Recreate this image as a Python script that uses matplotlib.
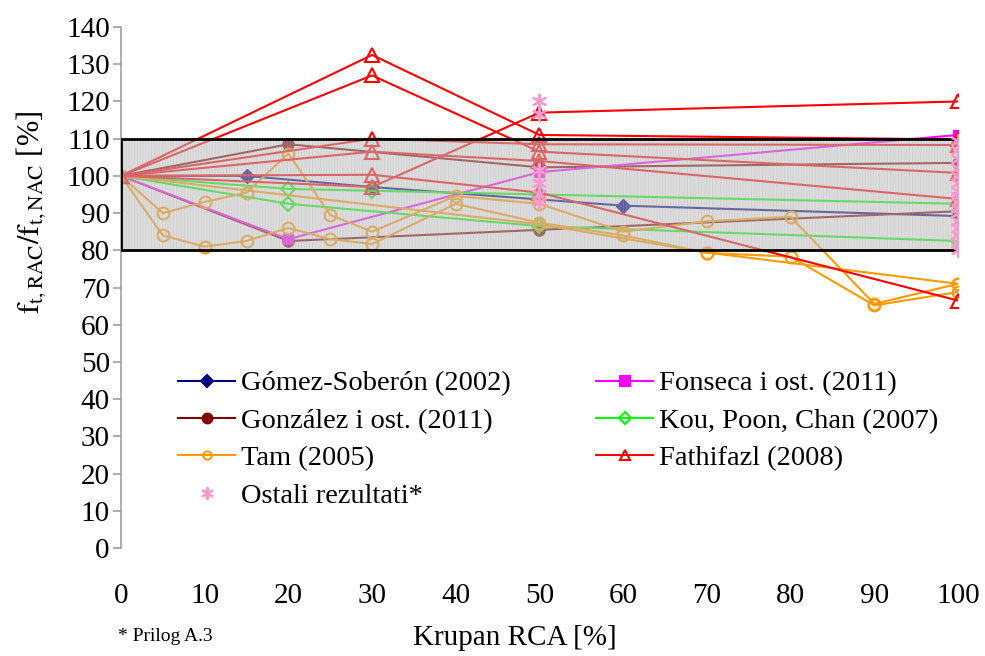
import matplotlib
matplotlib.use('Agg')
import matplotlib.pyplot as plt
from matplotlib.patches import Rectangle
from matplotlib.lines import Line2D

plt.rcParams['font.family'] = ['Liberation Serif', 'DejaVu Serif']
plt.rcParams['mathtext.fontset'] = 'stix'
plt.rcParams['hatch.linewidth'] = 0.6

# ---- data ----
gomez_x = [0, 15, 30, 60, 100]
gomez_y = [100, 100, 97, 92, 89.2]

fonseca_x = [0, 20, 50, 100]
fonseca_y = [100, 83, 101, 111]

gonzalez1_x = [0, 20, 50, 100]
gonzalez1_y = [100, 108.5, 102.3, 103.5]
gonzalez2_x = [0, 20, 50, 100]
gonzalez2_y = [100, 82.5, 85.5, 90.5]

kou1_x = [0, 20, 30, 50, 100]
kou1_y = [100, 96.5, 96, 95, 92.5]
kou2_x = [0, 20, 50, 100]
kou2_y = [100, 92.5, 86.5, 82.5]

tam_x = [0, 5, 10, 15, 20, 25, 30, 40, 50, 60, 70, 80, 90, 100]
tam1_y = [100, 90, 93, 95.5, 106, 89.5, 85, 94.6, 92.5, 85, 87.8, 89, 65.6, 71]
tam2_y = [100, 84, 81, 82.5, 86, 83, 81.7, 92.5, 87.4, 84, 79.3, 78.3, 65.2, 68.8]
tam3_x = [0, 50, 70, 100]
tam3_y = [100, 87, 79.4, 71]

fath_x = [0, 30, 50, 100]
fath1_y = [100, 132.5, 111, 109.8]
fath2_y = [100, 127, 106.5, 100.8]
fath3_y = [100, 97, 117, 120]
fath4_y = [100, 100.3, 95.5, 66.5]
fath5_y = [100, 110, 108.5, 108.3]
fath6_y = [100, 106.5, 104, 93.8]

ostali_x = [50, 50, 50, 50, 50, 50,
            100, 100, 100, 100, 100, 100, 100, 100, 100, 100, 100, 100, 100, 100, 100, 100]
ostali_y = [120, 116.5, 101.5, 98, 95, 93,
            80, 82, 84, 86, 88, 90, 91.5, 93, 94.5, 96, 98, 100, 102, 104.5, 107, 109.5]

box_lo, box_hi = 80, 110

xticks = list(range(0, 101, 10))
yticks = list(range(0, 141, 10))

fig = plt.figure(figsize=(9.85, 6.56), dpi=100)
ax = fig.add_axes([0.1228, 0.1646, 0.8498, 0.7942])

lw = 1.5
ms = 7.5

ax.plot(gomez_x, gomez_y, color='#000080', lw=lw, marker='D', ms=ms,
        mfc='#000080', mec='#000080', label='Gómez-Soberón (2002)')
ax.plot(gonzalez1_x, gonzalez1_y, color='#800000', lw=lw, marker='o', ms=ms + 0.5,
        mfc='#800000', mec='#800000', label='González i ost. (2011)')
ax.plot(gonzalez2_x, gonzalez2_y, color='#800000', lw=lw, marker='o', ms=ms + 0.5,
        mfc='#800000', mec='#800000')
ax.plot(fonseca_x, fonseca_y, color='#ff00ff', lw=lw, marker='s', ms=ms,
        mfc='#ff00ff', mec='#ff00ff', label='Fonseca i ost. (2011)')
for xx, yy in [(kou1_x, kou1_y), (kou2_x, kou2_y)]:
    ax.plot(xx, yy, color='#00ff00', lw=lw, marker='D', ms=ms - 0.5,
            mfc='none', mec='#00ff00', mew=1.5)
for xx, yy in [(tam_x, tam1_y), (tam_x, tam2_y), (tam3_x, tam3_y)]:
    ax.plot(xx, yy, color='#ff9900', lw=lw, marker='o', ms=ms + 1,
            mfc='none', mec='#ff9900', mew=1.5)
for yy in [fath1_y, fath2_y, fath3_y, fath4_y, fath5_y, fath6_y]:
    ax.plot(fath_x, yy, color='#ff0000', lw=lw, marker='^', ms=ms + 2,
            mfc='none', mec='#ff0000', mew=1.5)

# grey band 80-110 drawn over the lines (semi transparent)
ax.add_patch(Rectangle((0, box_lo), 100, box_hi - box_lo, facecolor=(0.75, 0.75, 0.75, 0.5),
                       edgecolor=(0.68, 0.68, 0.68, 0.35), hatch='||||||', lw=0, zorder=5))
ax.add_patch(Rectangle((0, box_lo), 100, box_hi - box_lo, facecolor='none',
                       edgecolor='black', lw=2, zorder=6))

ax.plot(ostali_x, ostali_y, ls='none', marker=(6, 2, 0), ms=11, mew=1.5,
        color='#ff99cc', zorder=7)

ax.set_xlim(0, 100)
ax.set_ylim(0, 140)
ax.set_xticks(xticks)
ax.set_yticks(yticks)
for s in ['top', 'right', 'bottom']:
    ax.spines[s].set_visible(False)
ax.spines['left'].set_color('#a0a0a0')
ax.spines['left'].set_linewidth(1.2)
ax.tick_params(axis='y', colors='#a0a0a0', length=6, width=1.2, labelsize=21,
               labelcolor='black', pad=2)
ax.tick_params(axis='x', length=0, labelsize=21, pad=25)
ax.patch.set_alpha(0)

fig.text(0.032, 0.677, r'$\mathrm{f_{t,RAC}/f_{t,NAC}}$ [%]', rotation=90,
         fontsize=22, ha='center', va='center')
fig.text(0.523, 0.028, 'Krupan RCA [%]', fontsize=21, ha='center', va='center')
fig.text(0.12, 0.03, '* Prilog A.3', fontsize=14, ha='left', va='center')

def h(color, marker, mfc, ms_):
    return Line2D([], [], color=color, lw=lw, marker=marker, ms=ms_, mfc=mfc, mec=color, mew=1.5)

handles = [
    h('#000080', 'D', '#000080', 6),
    h('#800000', 'o', '#800000', 7),
    h('#ff9900', 'o', 'none', 6),
    Line2D([], [], ls='none', marker=(6, 2, 0), ms=9, color='#ff99cc', mew=1.5),
    h('#ff00ff', 's', '#ff00ff', 7),
    h('#00ff00', 'D', 'none', 6),
    h('#ff0000', '^', 'none', 7),
]
labels = ['Gómez-Soberón (2002)', 'González i ost. (2011)', 'Tam (2005)', 'Ostali rezultati*',
          'Fonseca i ost. (2011)', 'Kou, Poon, Chan (2007)', 'Fathifazl (2008)']
fig.legend(handles, labels, ncol=2, loc='upper left', bbox_to_anchor=(0.155, 0.474),
           frameon=False, fontsize=20.5, handlelength=2.0, handletextpad=0.2,
           columnspacing=3.0, labelspacing=0.4)

fig.savefig('out.png', dpi=100)
